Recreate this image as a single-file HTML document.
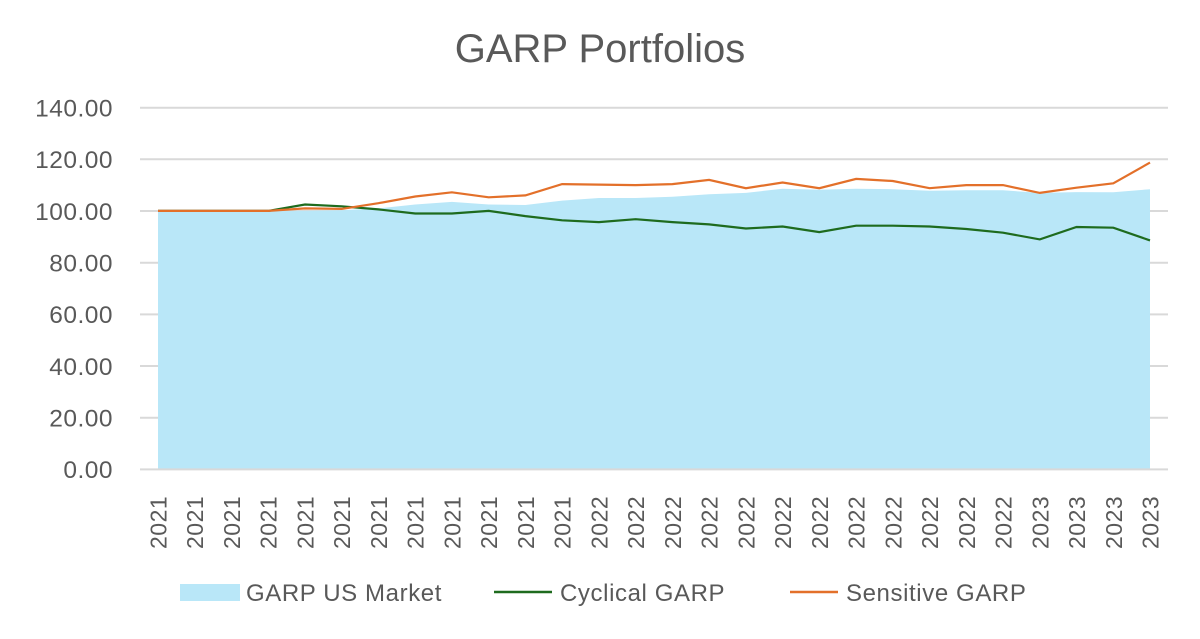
<!DOCTYPE html>
<html><head><meta charset="utf-8"><style>
html,body{margin:0;padding:0;background:#fff;}
svg{display:block;font-family:"Liberation Sans",sans-serif;}
</style></head><body>
<svg width="1200" height="639" viewBox="0 0 1200 639">
<text x="600" y="62" text-anchor="middle" font-size="40" fill="#595959">GARP Portfolios</text>
<g stroke="#d9d9d9" stroke-width="2">
<line x1="140" x2="1168" y1="107.7" y2="107.7"/>
<line x1="140" x2="1168" y1="159.3" y2="159.3"/>
<line x1="140" x2="1168" y1="211" y2="211"/>
<line x1="140" x2="1168" y1="262.7" y2="262.7"/>
<line x1="140" x2="1168" y1="314.4" y2="314.4"/>
<line x1="140" x2="1168" y1="366" y2="366"/>
<line x1="140" x2="1168" y1="417.7" y2="417.7"/>
</g>
<g font-size="24.5" fill="#595959" text-anchor="end" letter-spacing="0.5">
<text x="113" y="116.5">140.00</text>
<text x="113" y="168">120.00</text>
<text x="113" y="219.8">100.00</text>
<text x="113" y="271.5">80.00</text>
<text x="113" y="323.2">60.00</text>
<text x="113" y="374.8">40.00</text>
<text x="113" y="426.5">20.00</text>
<text x="113" y="478.2">0.00</text>
</g>
<g id="chart"></g>
<line x1="140" x2="1168" y1="469.4" y2="469.4" stroke="#d9d9d9" stroke-width="2"/>
<g id="xl" font-size="23" fill="#595959" letter-spacing="0.5"></g>
<rect x="180" y="584" width="60" height="17" fill="#b9e7f8"/>
<g font-size="24" fill="#595959" letter-spacing="0.6">
<text x="246" y="601">GARP US Market</text>
<text x="560" y="601">Cyclical GARP</text>
<text x="846" y="601">Sensitive GARP</text>
</g>
<line x1="494" x2="552" y1="592" y2="592" stroke="#1e6b1e" stroke-width="2.5"/>
<line x1="790" x2="838" y1="592" y2="592" stroke="#e3702a" stroke-width="2.5"/>
<script>
var o=[100,100,100,100,101,100.8,103,105.6,107.2,105.3,106,110.4,110.2,110,110.4,112,108.8,111,108.8,112.4,111.6,108.8,110,110,107,109,110.7,118.7];
var g=[100,100,100,100,102.5,101.8,100.6,99,99,100,98,96.4,95.7,96.8,95.7,94.8,93.2,94,91.8,94.3,94.3,94,93,91.6,89,93.8,93.5,88.6];
var b=[100,100,100,100,100,100.3,101,102.5,103.5,102.5,102.3,104,105,105,105.5,106.5,107,108.6,108.2,108.6,108.4,107.8,108,108,107,107.3,107.2,108.4];
function X(i){return 158+i*992/27;}function Y(v){return 469.4-v*2.5845;}
function pts(a){return a.map(function(v,i){return X(i).toFixed(1)+","+Y(v).toFixed(1)}).join(" ");}
var ns="http://www.w3.org/2000/svg",c=document.getElementById("chart");
var p=document.createElementNS(ns,"polygon");p.setAttribute("points",X(0)+",469.4 "+pts(b)+" "+X(27)+",469.4");p.setAttribute("fill","#b9e7f8");c.appendChild(p);
[[g,"#1e6b1e"],[o,"#e3702a"]].forEach(function(s){var l=document.createElementNS(ns,"polyline");l.setAttribute("points",pts(s[0]));l.setAttribute("fill","none");l.setAttribute("stroke",s[1]);l.setAttribute("stroke-width","2.2");c.appendChild(l);});
var xl=document.getElementById("xl");
for(var i=0;i<28;i++){var yr=i<12?"2021":(i<24?"2022":"2023");var t=document.createElementNS(ns,"text");t.setAttribute("transform","translate("+(X(i)+8.5)+",549) rotate(-90)");t.textContent=yr;xl.appendChild(t);}
</script>
</svg>
</body></html>
